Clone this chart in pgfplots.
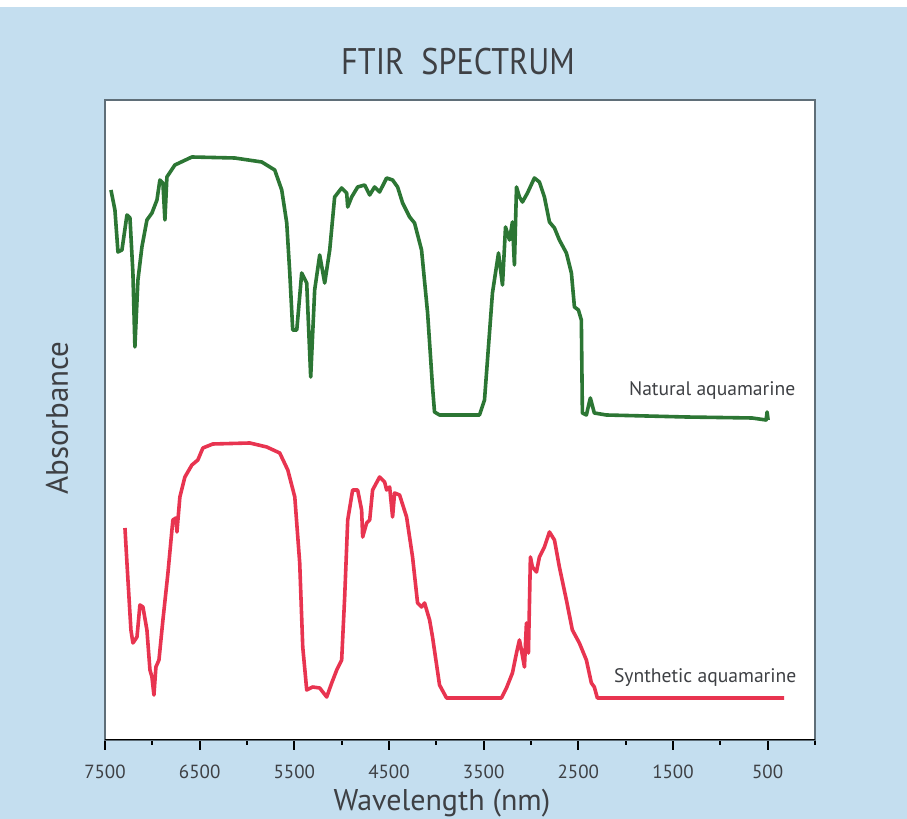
\documentclass[border=0pt]{standalone}
\usepackage{fontspec}
\setmainfont{PT Sans}
\newfontfamily\narrowfont[FakeStretch=0.87]{PT Sans}
\usepackage{pgfplots}
\pgfplotsset{compat=1.18}

\definecolor{bgblue}{RGB}{196,222,239}
\definecolor{natgreen}{RGB}{44,118,52}
\definecolor{synred}{RGB}{232,52,80}
\definecolor{txtgray}{RGB}{62,64,68}
\definecolor{framegray}{RGB}{95,110,120}

\begin{document}
\begin{tikzpicture}
% page background (1 px of the reference = 0.5pt)
\fill[bgblue] (-52.5pt,-39.5pt) rectangle (401pt,370pt);
\fill[white] (-52.5pt,366.5pt) rectangle (401pt,370pt);

\begin{axis}[
    at={(0,0)}, anchor=south west,
    width=355pt, height=320pt, scale only axis,
    xmin=0, xmax=7500, x dir=reverse,
    ymin=0, ymax=640,
    axis background/.style={fill=white},
    axis line style={draw=framegray, line width=0.8pt},
    xtick={500,1500,...,7500},
    minor xtick={0,1000,...,7000},
    xtick pos=left, xtick align=outside,
    major tick length=5pt, minor tick length=2.5pt,
    every tick/.style={black, line width=1pt},
    ytick=\empty,
    /pgf/number format/1000 sep={},
    /pgf/number format/assume math mode=true,
    xticklabel style={font=\fontsize{9.5}{11}\selectfont, text=txtgray, yshift=-4pt},
  ]
  % Natural aquamarine
  \addplot[natgreen, line width=1.8pt, line join=round] coordinates {
    (7437,550) (7395,530) (7363,488) (7321,490) (7268,525) (7236,522) (7205,467)
    (7184,393) (7152,460) (7110,493) (7057,520) (7004,527) (6951,540) (6920,560)
    (6888,557) (6867,520) (6846,563) (6762,575) (6582,583) (6129,582) (5844,578)
    (5707,570) (5633,550) (5580,517) (5548,467) (5517,410) (5474,410) (5422,467)
    (5369,457) (5327,363) (5285,450) (5232,485) (5179,457) (5126,490) (5074,543)
    (5000,552) (4947,547) (4936,533) (4894,543) (4831,553) (4757,555) (4704,545)
    (4652,553) (4599,548) (4525,562) (4462,560) (4409,553) (4356,537) (4282,523)
    (4230,517) (4156,490) (4092,427) (4040,353) (4019,328) (3966,325) (3544,325)
    (3491,340) (3407,447) (3343,487) (3301,455) (3269,513) (3227,500) (3196,518)
    (3175,475) (3153,553) (3122,543) (3090,538) (3037,547) (2964,562) (2911,558)
    (2858,543) (2805,518) (2752,512) (2700,500) (2626,487) (2573,467) (2541,433)
    (2499,430) (2468,420) (2457,327) (2415,325) (2373,342) (2331,327) (2204,325)
    (1360,323) (664,322) (516,320) (506,328) (495,320)
  };
  % Synthetic aquamarine
  \addplot[synred, line width=1.8pt, line join=round] coordinates {
    (7289,212) (7268,177) (7226,110) (7205,97) (7162,103) (7131,135) (7099,133)
    (7057,110) (7025,70) (7004,63) (6983,45) (6962,73) (6930,80) (6888,120)
    (6835,167) (6783,220) (6751,222) (6740,208) (6709,243) (6656,263) (6582,275)
    (6519,280) (6466,292) (6361,296) (5970,297) (5791,293) (5654,287) (5569,270)
    (5495,243) (5443,177) (5411,93) (5369,50) (5306,53) (5232,52) (5158,43)
    (5105,57) (5052,70) (5000,80) (4968,143) (4936,220) (4884,250) (4831,250)
    (4789,230) (4778,203) (4736,217) (4704,220) (4673,250) (4599,263) (4546,258)
    (4525,250) (4493,253) (4462,223) (4441,247) (4388,245) (4314,223) (4251,183)
    (4198,137) (4156,133) (4124,137) (4071,120) (4040,103) (3966,55) (3892,42)
    (3312,42) (3259,52) (3196,67) (3153,87) (3122,100) (3101,90) (3069,73)
    (3048,117) (3027,87) (3006,183) (2985,173) (2942,168) (2911,183) (2858,193)
    (2805,208) (2752,200) (2700,173) (2626,140) (2563,110) (2489,97) (2415,80)
    (2362,57) (2331,53) (2299,42) (326,42)
  };
  \draw[black, line width=1.3pt] (rel axis cs:0,0) -- (rel axis cs:1,0);
  \node[text=txtgray, font=\fontsize{9.8}{11}\selectfont] at (axis cs:1086,349) {Natural aquamarine};
  \node[text=txtgray, font=\fontsize{9.8}{11}\selectfont] at (axis cs:1160,62) {Synthetic aquamarine};
\end{axis}

\node[text=txtgray, font=\narrowfont\fontsize{18.5}{22}\selectfont] at (176.5pt,339pt) {FTIR\ \ SPECTRUM};
\node[text=txtgray, rotate=90, font=\fontsize{15.5}{18}\selectfont] at (-24pt,161pt) {Absorbance};
\node[text=txtgray, font=\fontsize{15}{18}\selectfont, anchor=base, inner sep=0pt] at (168.5pt,-35.5pt) {Wavelength (nm)};

\pgfresetboundingbox
\useasboundingbox (-52.5pt,-39.5pt) rectangle (401pt,370pt);
\end{tikzpicture}
\end{document}
